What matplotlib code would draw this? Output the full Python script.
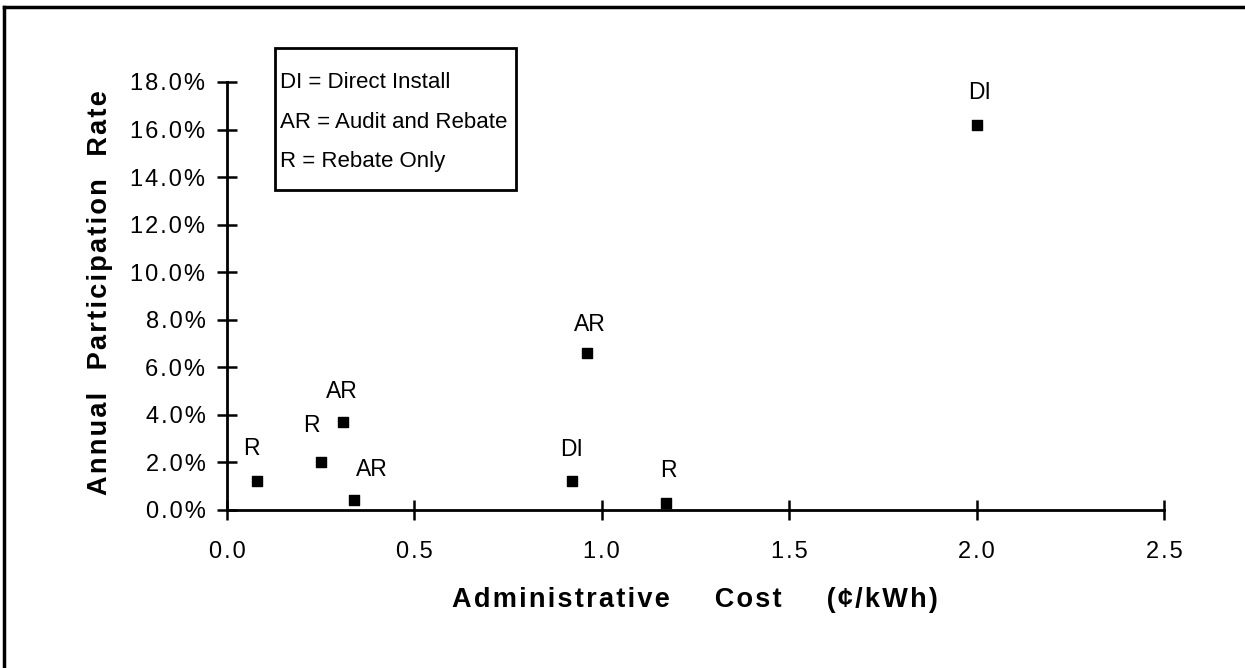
import matplotlib
matplotlib.use("Agg")
import matplotlib.pyplot as plt
from matplotlib.lines import Line2D
from matplotlib.patches import Rectangle

plt.rcParams['font.family'] = ['Liberation Sans', 'DejaVu Sans']

# data
cost = [0.08, 0.25, 0.31, 0.34, 0.92, 0.96, 1.17, 2.0]
rate = [1.2, 2.0, 3.7, 0.4, 1.2, 6.6, 0.3, 16.2]
prog = ['R', 'R', 'AR', 'AR', 'DI', 'AR', 'R', 'DI']
# hand placed label offsets (pixels) like the original
lab_dx = [-6, -9, -1, 17, 0, 3, 3, 3]
lab_dy = [33, 37, 31, 31, 32, 29, 32, 32]

xticks = [0.0, 0.5, 1.0, 1.5, 2.0, 2.5]
yticks = [0, 2, 4, 6, 8, 10, 12, 14, 16, 18]
key = ['DI = Direct Install', 'AR = Audit and Rebate', 'R = Rebate Only']


def spaced(s, gap='\u200a'):
    # the old typeset labels are letter spaced
    return gap.join(s)


W, H = 1245, 668
fig = plt.figure(figsize=(W / 100, H / 100), dpi=100)
ax = fig.add_axes([227 / W, 1 - 510 / H, (1164 - 227) / W, (510 - 82) / H])

ax.scatter(cost, rate, marker='s', s=45, color='black', zorder=3)
for xx, yy, tt, dx, dy in zip(cost, rate, prog, lab_dx, lab_dy):
    ax.annotate(tt, (xx, yy), xytext=(dx, dy), textcoords='offset pixels',
                ha='center', va='center', fontsize=16.5)

ax.set_xlim(0, 2.5)
ax.set_ylim(0, 18)
ax.set_xticks(xticks)
ax.set_xticklabels([spaced('%.1f' % v) for v in xticks])
ax.set_yticks(yticks)
ax.set_yticklabels([spaced('%.1f%%' % v) for v in yticks])
for s in ['top', 'right']:
    ax.spines[s].set_visible(False)
for s in ['left', 'bottom']:
    ax.spines[s].set_linewidth(2)
ax.tick_params(axis='both', direction='inout', length=15, width=1.8, labelsize=17)
ax.tick_params(axis='x', pad=15)
ax.tick_params(axis='y', pad=8)

fig.text(695 / W, 1 - 600 / H, spaced('Administrative') + '      ' + spaced('Cost') + '      ' + spaced('(¢/kWh)'),
         fontsize=19.5, fontweight='bold', ha='center', va='center')
fig.text(100 / W, 1 - 293 / H, spaced('Annual') + '   ' + spaced('Participation') + '   ' + spaced('Rate'),
         fontsize=19.5, fontweight='bold', ha='center', va='center', rotation=90)

# key box
fig.patches.append(Rectangle((275 / W, 1 - 190 / H), (516 - 275) / W, (190 - 48) / H,
                             transform=fig.transFigure, fill=False, lw=2, color='black'))
for i, t in enumerate(key):
    fig.text(280 / W, 1 - (82 + i * 40) / H, t, fontsize=16, va='center', ha='left')

# outer frame (only top and left survive in the scan)
fig.lines.append(Line2D([4 / W, 4 / W], [0, 1 - 7 / H], transform=fig.transFigure, color='black', lw=2.5))
fig.lines.append(Line2D([4 / W, 1], [1 - 7 / H, 1 - 7 / H], transform=fig.transFigure, color='black', lw=2.5))

fig.savefig('out.png', dpi=100)
